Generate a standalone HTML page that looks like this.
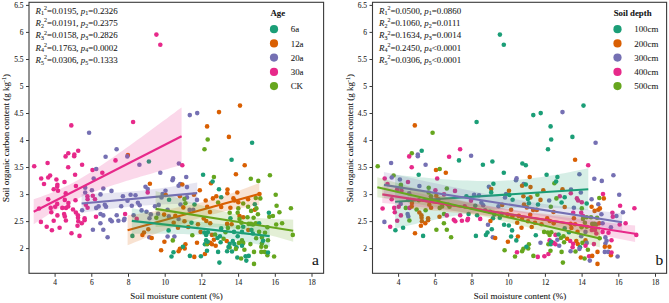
<!DOCTYPE html>
<html><head><meta charset="utf-8"><style>
html,body{margin:0;padding:0;background:#fff;}
svg{display:block;font-family:"Liberation Serif",serif;}
text{stroke:#2a2a2a;stroke-width:0.08px;}
</style></head><body>
<svg width="669" height="303" viewBox="0 0 669 303">
<rect width="669" height="303" fill="#fff"/>
<circle cx="156.4" cy="34.6" r="2.3" fill="#e7298a"/>
<circle cx="160.3" cy="44.8" r="2.3" fill="#e7298a"/>
<circle cx="71.3" cy="125.4" r="2.3" fill="#e7298a"/>
<circle cx="78.2" cy="150.8" r="2.3" fill="#e7298a"/>
<circle cx="68.3" cy="153.3" r="2.3" fill="#e7298a"/>
<circle cx="74.3" cy="154.5" r="2.3" fill="#e7298a"/>
<circle cx="65.6" cy="156.4" r="2.3" fill="#e7298a"/>
<circle cx="133.1" cy="122.0" r="2.3" fill="#e7298a"/>
<circle cx="89.1" cy="132.7" r="2.3" fill="#7570b3"/>
<circle cx="105.6" cy="156.8" r="2.3" fill="#7570b3"/>
<circle cx="116.6" cy="149.2" r="2.3" fill="#7570b3"/>
<circle cx="189.8" cy="115.1" r="2.3" fill="#7570b3"/>
<circle cx="197.2" cy="113.1" r="2.3" fill="#7570b3"/>
<circle cx="127.9" cy="155.0" r="2.3" fill="#d95f02"/>
<circle cx="219.0" cy="112.1" r="2.3" fill="#d95f02"/>
<circle cx="240.0" cy="105.6" r="2.3" fill="#d95f02"/>
<circle cx="207.1" cy="126.4" r="2.3" fill="#d95f02"/>
<circle cx="228.9" cy="136.9" r="2.3" fill="#d95f02"/>
<circle cx="207.7" cy="139.5" r="2.3" fill="#66a61e"/>
<circle cx="204.5" cy="149.2" r="2.3" fill="#66a61e"/>
<circle cx="252.1" cy="142.8" r="2.3" fill="#1b9e77"/>
<circle cx="74.2" cy="156.3" r="2.3" fill="#e7298a"/>
<circle cx="34.2" cy="166.3" r="2.3" fill="#e7298a"/>
<circle cx="47.6" cy="163.0" r="2.3" fill="#e7298a"/>
<circle cx="68.2" cy="167.3" r="2.3" fill="#e7298a"/>
<circle cx="75.1" cy="174.8" r="2.3" fill="#e7298a"/>
<circle cx="50.1" cy="175.5" r="2.3" fill="#e7298a"/>
<circle cx="48.2" cy="177.5" r="2.3" fill="#e7298a"/>
<circle cx="41.2" cy="178.5" r="2.3" fill="#e7298a"/>
<circle cx="56.4" cy="179.5" r="2.3" fill="#e7298a"/>
<circle cx="64.5" cy="182.0" r="2.3" fill="#e7298a"/>
<circle cx="44.0" cy="184.0" r="2.3" fill="#e7298a"/>
<circle cx="57.4" cy="184.7" r="2.3" fill="#e7298a"/>
<circle cx="57.2" cy="186.8" r="2.3" fill="#e7298a"/>
<circle cx="75.9" cy="186.0" r="2.3" fill="#e7298a"/>
<circle cx="53.7" cy="189.3" r="2.3" fill="#e7298a"/>
<circle cx="58.0" cy="190.7" r="2.3" fill="#e7298a"/>
<circle cx="82.1" cy="164.8" r="2.3" fill="#e7298a"/>
<circle cx="115.5" cy="160.4" r="2.3" fill="#e7298a"/>
<circle cx="92.5" cy="170.0" r="2.3" fill="#e7298a"/>
<circle cx="102.3" cy="172.8" r="2.3" fill="#e7298a"/>
<circle cx="96.2" cy="169.0" r="2.3" fill="#7570b3"/>
<circle cx="93.7" cy="178.5" r="2.3" fill="#7570b3"/>
<circle cx="85.2" cy="187.8" r="2.3" fill="#7570b3"/>
<circle cx="91.9" cy="190.2" r="2.3" fill="#7570b3"/>
<circle cx="103.3" cy="188.5" r="2.3" fill="#7570b3"/>
<circle cx="111.5" cy="190.9" r="2.3" fill="#7570b3"/>
<circle cx="85.2" cy="192.5" r="2.3" fill="#7570b3"/>
<circle cx="65.7" cy="193.4" r="2.3" fill="#e7298a"/>
<circle cx="48.2" cy="199.2" r="2.3" fill="#e7298a"/>
<circle cx="64.8" cy="199.9" r="2.3" fill="#e7298a"/>
<circle cx="75.5" cy="200.3" r="2.3" fill="#e7298a"/>
<circle cx="68.4" cy="203.0" r="2.3" fill="#e7298a"/>
<circle cx="57.2" cy="203.9" r="2.3" fill="#e7298a"/>
<circle cx="39.1" cy="208.5" r="2.3" fill="#e7298a"/>
<circle cx="50.7" cy="207.9" r="2.3" fill="#e7298a"/>
<circle cx="55.2" cy="206.7" r="2.3" fill="#e7298a"/>
<circle cx="62.3" cy="207.9" r="2.3" fill="#e7298a"/>
<circle cx="66.0" cy="207.9" r="2.3" fill="#e7298a"/>
<circle cx="68.2" cy="206.4" r="2.3" fill="#e7298a"/>
<circle cx="51.3" cy="212.2" r="2.3" fill="#e7298a"/>
<circle cx="73.0" cy="209.5" r="2.3" fill="#e7298a"/>
<circle cx="75.9" cy="212.5" r="2.3" fill="#e7298a"/>
<circle cx="57.4" cy="215.4" r="2.3" fill="#e7298a"/>
<circle cx="64.1" cy="214.0" r="2.3" fill="#e7298a"/>
<circle cx="64.8" cy="216.4" r="2.3" fill="#e7298a"/>
<circle cx="40.9" cy="221.9" r="2.3" fill="#e7298a"/>
<circle cx="53.7" cy="220.7" r="2.3" fill="#e7298a"/>
<circle cx="65.9" cy="220.5" r="2.3" fill="#e7298a"/>
<circle cx="78.0" cy="217.7" r="2.3" fill="#e7298a"/>
<circle cx="78.3" cy="221.3" r="2.3" fill="#e7298a"/>
<circle cx="87.4" cy="196.2" r="2.3" fill="#e7298a"/>
<circle cx="87.6" cy="199.3" r="2.3" fill="#e7298a"/>
<circle cx="92.8" cy="195.7" r="2.3" fill="#e7298a"/>
<circle cx="95.0" cy="199.2" r="2.3" fill="#e7298a"/>
<circle cx="85.8" cy="204.8" r="2.3" fill="#e7298a"/>
<circle cx="87.6" cy="207.7" r="2.3" fill="#e7298a"/>
<circle cx="77.9" cy="215.2" r="2.3" fill="#e7298a"/>
<circle cx="84.6" cy="218.3" r="2.3" fill="#e7298a"/>
<circle cx="96.0" cy="216.8" r="2.3" fill="#e7298a"/>
<circle cx="81.8" cy="223.3" r="2.3" fill="#e7298a"/>
<circle cx="100.5" cy="194.4" r="2.3" fill="#7570b3"/>
<circle cx="96.2" cy="207.9" r="2.3" fill="#7570b3"/>
<circle cx="98.6" cy="206.4" r="2.3" fill="#7570b3"/>
<circle cx="104.8" cy="204.8" r="2.3" fill="#7570b3"/>
<circle cx="106.0" cy="206.7" r="2.3" fill="#7570b3"/>
<circle cx="82.1" cy="210.3" r="2.3" fill="#7570b3"/>
<circle cx="100.5" cy="214.0" r="2.3" fill="#7570b3"/>
<circle cx="103.3" cy="215.4" r="2.3" fill="#7570b3"/>
<circle cx="116.7" cy="215.2" r="2.3" fill="#7570b3"/>
<circle cx="100.4" cy="223.3" r="2.3" fill="#7570b3"/>
<circle cx="110.3" cy="219.8" r="2.3" fill="#7570b3"/>
<circle cx="111.8" cy="221.3" r="2.3" fill="#7570b3"/>
<circle cx="118.4" cy="220.7" r="2.3" fill="#7570b3"/>
<circle cx="46.7" cy="226.8" r="2.3" fill="#e7298a"/>
<circle cx="51.9" cy="230.3" r="2.3" fill="#e7298a"/>
<circle cx="59.6" cy="227.7" r="2.3" fill="#e7298a"/>
<circle cx="71.5" cy="233.2" r="2.3" fill="#e7298a"/>
<circle cx="77.5" cy="225.8" r="2.3" fill="#e7298a"/>
<circle cx="79.5" cy="235.9" r="2.3" fill="#e7298a"/>
<circle cx="84.6" cy="220.3" r="2.3" fill="#e7298a"/>
<circle cx="92.9" cy="229.8" r="2.3" fill="#7570b3"/>
<circle cx="103.3" cy="229.8" r="2.3" fill="#7570b3"/>
<circle cx="107.6" cy="237.2" r="2.3" fill="#7570b3"/>
<circle cx="149.9" cy="183.7" r="2.3" fill="#d95f02"/>
<circle cx="127.3" cy="156.4" r="2.3" fill="#7570b3"/>
<circle cx="139.4" cy="164.8" r="2.3" fill="#7570b3"/>
<circle cx="160.3" cy="172.8" r="2.3" fill="#7570b3"/>
<circle cx="145.5" cy="186.8" r="2.3" fill="#7570b3"/>
<circle cx="148.9" cy="161.5" r="2.3" fill="#1b9e77"/>
<circle cx="147.7" cy="189.0" r="2.3" fill="#7570b3"/>
<circle cx="122.9" cy="196.2" r="2.3" fill="#7570b3"/>
<circle cx="130.6" cy="194.8" r="2.3" fill="#7570b3"/>
<circle cx="135.5" cy="195.3" r="2.3" fill="#7570b3"/>
<circle cx="127.5" cy="200.7" r="2.3" fill="#7570b3"/>
<circle cx="162.6" cy="194.0" r="2.3" fill="#7570b3"/>
<circle cx="161.5" cy="197.5" r="2.3" fill="#7570b3"/>
<circle cx="165.5" cy="190.8" r="2.3" fill="#7570b3"/>
<circle cx="121.2" cy="206.3" r="2.3" fill="#7570b3"/>
<circle cx="131.8" cy="205.8" r="2.3" fill="#7570b3"/>
<circle cx="137.9" cy="202.8" r="2.3" fill="#7570b3"/>
<circle cx="139.7" cy="205.2" r="2.3" fill="#7570b3"/>
<circle cx="141.6" cy="210.4" r="2.3" fill="#7570b3"/>
<circle cx="146.5" cy="211.7" r="2.3" fill="#7570b3"/>
<circle cx="155.0" cy="206.3" r="2.3" fill="#7570b3"/>
<circle cx="158.7" cy="204.9" r="2.3" fill="#7570b3"/>
<circle cx="133.6" cy="215.3" r="2.3" fill="#7570b3"/>
<circle cx="124.5" cy="218.7" r="2.3" fill="#7570b3"/>
<circle cx="150.8" cy="214.4" r="2.3" fill="#7570b3"/>
<circle cx="149.5" cy="218.3" r="2.3" fill="#7570b3"/>
<circle cx="158.1" cy="213.8" r="2.3" fill="#7570b3"/>
<circle cx="147.7" cy="192.4" r="2.3" fill="#e7298a"/>
<circle cx="125.1" cy="214.0" r="2.3" fill="#e7298a"/>
<circle cx="136.7" cy="218.9" r="2.3" fill="#e7298a"/>
<circle cx="156.3" cy="217.8" r="2.3" fill="#66a61e"/>
<circle cx="164.1" cy="214.6" r="2.3" fill="#d95f02"/>
<circle cx="123.9" cy="220.3" r="2.3" fill="#7570b3"/>
<circle cx="149.3" cy="237.2" r="2.3" fill="#7570b3"/>
<circle cx="148.3" cy="229.2" r="2.3" fill="#d95f02"/>
<circle cx="144.0" cy="232.5" r="2.3" fill="#d95f02"/>
<circle cx="142.4" cy="235.0" r="2.3" fill="#d95f02"/>
<circle cx="151.7" cy="238.0" r="2.3" fill="#d95f02"/>
<circle cx="164.4" cy="241.7" r="2.3" fill="#d95f02"/>
<circle cx="161.1" cy="250.3" r="2.3" fill="#d95f02"/>
<circle cx="132.4" cy="235.9" r="2.3" fill="#1b9e77"/>
<circle cx="178.9" cy="163.5" r="2.3" fill="#7570b3"/>
<circle cx="173.1" cy="178.4" r="2.3" fill="#7570b3"/>
<circle cx="186.2" cy="177.0" r="2.3" fill="#7570b3"/>
<circle cx="180.2" cy="184.0" r="2.3" fill="#7570b3"/>
<circle cx="178.6" cy="185.8" r="2.3" fill="#7570b3"/>
<circle cx="187.0" cy="187.1" r="2.3" fill="#7570b3"/>
<circle cx="182.3" cy="165.2" r="2.3" fill="#e7298a"/>
<circle cx="203.1" cy="174.8" r="2.3" fill="#1b9e77"/>
<circle cx="182.3" cy="184.5" r="2.3" fill="#d95f02"/>
<circle cx="211.0" cy="183.2" r="2.3" fill="#d95f02"/>
<circle cx="172.5" cy="180.3" r="2.3" fill="#7570b3"/>
<circle cx="187.0" cy="197.4" r="2.3" fill="#7570b3"/>
<circle cx="197.0" cy="199.9" r="2.3" fill="#7570b3"/>
<circle cx="180.5" cy="204.5" r="2.3" fill="#7570b3"/>
<circle cx="189.6" cy="209.9" r="2.3" fill="#7570b3"/>
<circle cx="193.3" cy="209.9" r="2.3" fill="#7570b3"/>
<circle cx="167.6" cy="209.7" r="2.3" fill="#7570b3"/>
<circle cx="168.9" cy="216.4" r="2.3" fill="#7570b3"/>
<circle cx="165.8" cy="195.0" r="2.3" fill="#d95f02"/>
<circle cx="199.8" cy="190.3" r="2.3" fill="#d95f02"/>
<circle cx="193.9" cy="194.8" r="2.3" fill="#d95f02"/>
<circle cx="179.9" cy="196.2" r="2.3" fill="#d95f02"/>
<circle cx="205.7" cy="200.5" r="2.3" fill="#d95f02"/>
<circle cx="183.3" cy="207.4" r="2.3" fill="#d95f02"/>
<circle cx="207.2" cy="206.7" r="2.3" fill="#d95f02"/>
<circle cx="175.3" cy="215.9" r="2.3" fill="#d95f02"/>
<circle cx="210.0" cy="212.0" r="2.3" fill="#d95f02"/>
<circle cx="169.1" cy="199.7" r="2.3" fill="#1b9e77"/>
<circle cx="194.5" cy="204.5" r="2.3" fill="#1b9e77"/>
<circle cx="184.4" cy="198.9" r="2.3" fill="#66a61e"/>
<circle cx="185.4" cy="203.3" r="2.3" fill="#66a61e"/>
<circle cx="231.6" cy="159.8" r="2.3" fill="#1b9e77"/>
<circle cx="212.6" cy="181.5" r="2.3" fill="#1b9e77"/>
<circle cx="244.7" cy="165.2" r="2.3" fill="#d95f02"/>
<circle cx="235.9" cy="174.2" r="2.3" fill="#d95f02"/>
<circle cx="213.9" cy="177.0" r="2.3" fill="#66a61e"/>
<circle cx="250.8" cy="178.8" r="2.3" fill="#66a61e"/>
<circle cx="258.3" cy="180.9" r="2.3" fill="#66a61e"/>
<circle cx="269.9" cy="175.2" r="2.3" fill="#66a61e"/>
<circle cx="219.0" cy="189.2" r="2.3" fill="#1b9e77"/>
<circle cx="221.2" cy="197.2" r="2.3" fill="#1b9e77"/>
<circle cx="254.8" cy="204.2" r="2.3" fill="#1b9e77"/>
<circle cx="227.5" cy="189.5" r="2.3" fill="#d95f02"/>
<circle cx="227.3" cy="193.2" r="2.3" fill="#d95f02"/>
<circle cx="237.3" cy="192.5" r="2.3" fill="#d95f02"/>
<circle cx="216.3" cy="196.2" r="2.3" fill="#d95f02"/>
<circle cx="212.9" cy="198.4" r="2.3" fill="#d95f02"/>
<circle cx="233.4" cy="198.4" r="2.3" fill="#d95f02"/>
<circle cx="234.6" cy="200.5" r="2.3" fill="#d95f02"/>
<circle cx="238.3" cy="202.2" r="2.3" fill="#d95f02"/>
<circle cx="248.1" cy="199.2" r="2.3" fill="#d95f02"/>
<circle cx="221.2" cy="207.0" r="2.3" fill="#d95f02"/>
<circle cx="230.4" cy="207.8" r="2.3" fill="#d95f02"/>
<circle cx="254.8" cy="209.7" r="2.3" fill="#d95f02"/>
<circle cx="218.1" cy="202.5" r="2.3" fill="#66a61e"/>
<circle cx="243.2" cy="203.5" r="2.3" fill="#66a61e"/>
<circle cx="238.3" cy="208.4" r="2.3" fill="#66a61e"/>
<circle cx="248.1" cy="206.7" r="2.3" fill="#66a61e"/>
<circle cx="251.1" cy="210.9" r="2.3" fill="#66a61e"/>
<circle cx="229.7" cy="212.8" r="2.3" fill="#66a61e"/>
<circle cx="237.7" cy="212.8" r="2.3" fill="#66a61e"/>
<circle cx="259.5" cy="194.0" r="2.3" fill="#d95f02"/>
<circle cx="255.8" cy="198.0" r="2.3" fill="#66a61e"/>
<circle cx="260.3" cy="198.4" r="2.3" fill="#66a61e"/>
<circle cx="275.7" cy="194.8" r="2.3" fill="#66a61e"/>
<circle cx="256.4" cy="208.4" r="2.3" fill="#66a61e"/>
<circle cx="276.6" cy="205.8" r="2.3" fill="#66a61e"/>
<circle cx="290.9" cy="208.2" r="2.3" fill="#66a61e"/>
<circle cx="279.4" cy="212.3" r="2.3" fill="#66a61e"/>
<circle cx="257.9" cy="214.3" r="2.3" fill="#66a61e"/>
<circle cx="272.9" cy="216.0" r="2.3" fill="#66a61e"/>
<circle cx="269.3" cy="216.8" r="2.3" fill="#66a61e"/>
<circle cx="268.9" cy="212.8" r="2.3" fill="#1b9e77"/>
<circle cx="178.6" cy="219.0" r="2.3" fill="#7570b3"/>
<circle cx="167.6" cy="236.5" r="2.3" fill="#7570b3"/>
<circle cx="174.4" cy="236.5" r="2.3" fill="#7570b3"/>
<circle cx="184.5" cy="221.2" r="2.3" fill="#d95f02"/>
<circle cx="173.7" cy="222.8" r="2.3" fill="#d95f02"/>
<circle cx="198.0" cy="224.3" r="2.3" fill="#d95f02"/>
<circle cx="206.3" cy="221.0" r="2.3" fill="#d95f02"/>
<circle cx="203.7" cy="218.4" r="2.3" fill="#d95f02"/>
<circle cx="178.0" cy="227.7" r="2.3" fill="#d95f02"/>
<circle cx="188.2" cy="227.0" r="2.3" fill="#d95f02"/>
<circle cx="200.6" cy="231.9" r="2.3" fill="#d95f02"/>
<circle cx="197.0" cy="242.7" r="2.3" fill="#d95f02"/>
<circle cx="185.4" cy="244.3" r="2.3" fill="#d95f02"/>
<circle cx="179.9" cy="248.8" r="2.3" fill="#d95f02"/>
<circle cx="184.7" cy="248.4" r="2.3" fill="#d95f02"/>
<circle cx="191.5" cy="222.8" r="2.3" fill="#1b9e77"/>
<circle cx="168.6" cy="230.4" r="2.3" fill="#1b9e77"/>
<circle cx="204.3" cy="232.5" r="2.3" fill="#1b9e77"/>
<circle cx="207.9" cy="232.2" r="2.3" fill="#1b9e77"/>
<circle cx="206.1" cy="234.9" r="2.3" fill="#1b9e77"/>
<circle cx="206.1" cy="240.4" r="2.3" fill="#1b9e77"/>
<circle cx="204.9" cy="244.2" r="2.3" fill="#1b9e77"/>
<circle cx="182.9" cy="246.8" r="2.3" fill="#1b9e77"/>
<circle cx="192.3" cy="235.3" r="2.3" fill="#66a61e"/>
<circle cx="172.8" cy="240.4" r="2.3" fill="#66a61e"/>
<circle cx="207.2" cy="244.3" r="2.3" fill="#66a61e"/>
<circle cx="239.5" cy="216.0" r="2.3" fill="#d95f02"/>
<circle cx="243.2" cy="217.2" r="2.3" fill="#d95f02"/>
<circle cx="210.2" cy="223.3" r="2.3" fill="#d95f02"/>
<circle cx="227.1" cy="223.9" r="2.3" fill="#d95f02"/>
<circle cx="231.6" cy="224.3" r="2.3" fill="#d95f02"/>
<circle cx="248.3" cy="230.0" r="2.3" fill="#d95f02"/>
<circle cx="212.0" cy="234.9" r="2.3" fill="#d95f02"/>
<circle cx="213.9" cy="239.8" r="2.3" fill="#d95f02"/>
<circle cx="226.7" cy="241.0" r="2.3" fill="#d95f02"/>
<circle cx="210.2" cy="242.9" r="2.3" fill="#d95f02"/>
<circle cx="212.0" cy="244.3" r="2.3" fill="#d95f02"/>
<circle cx="215.7" cy="245.7" r="2.3" fill="#d95f02"/>
<circle cx="247.5" cy="217.2" r="2.3" fill="#66a61e"/>
<circle cx="253.6" cy="217.8" r="2.3" fill="#66a61e"/>
<circle cx="239.5" cy="219.0" r="2.3" fill="#66a61e"/>
<circle cx="241.4" cy="222.8" r="2.3" fill="#66a61e"/>
<circle cx="248.7" cy="223.9" r="2.3" fill="#66a61e"/>
<circle cx="253.0" cy="224.5" r="2.3" fill="#66a61e"/>
<circle cx="227.9" cy="227.9" r="2.3" fill="#66a61e"/>
<circle cx="238.1" cy="227.2" r="2.3" fill="#66a61e"/>
<circle cx="225.5" cy="232.2" r="2.3" fill="#66a61e"/>
<circle cx="215.1" cy="234.5" r="2.3" fill="#66a61e"/>
<circle cx="223.6" cy="238.7" r="2.3" fill="#66a61e"/>
<circle cx="242.0" cy="240.4" r="2.3" fill="#66a61e"/>
<circle cx="238.9" cy="242.9" r="2.3" fill="#66a61e"/>
<circle cx="243.2" cy="242.9" r="2.3" fill="#66a61e"/>
<circle cx="250.4" cy="244.1" r="2.3" fill="#66a61e"/>
<circle cx="229.7" cy="247.5" r="2.3" fill="#66a61e"/>
<circle cx="230.4" cy="218.2" r="2.3" fill="#1b9e77"/>
<circle cx="243.2" cy="226.8" r="2.3" fill="#1b9e77"/>
<circle cx="221.2" cy="228.4" r="2.3" fill="#1b9e77"/>
<circle cx="234.0" cy="231.9" r="2.3" fill="#1b9e77"/>
<circle cx="242.0" cy="231.9" r="2.3" fill="#1b9e77"/>
<circle cx="252.9" cy="233.5" r="2.3" fill="#1b9e77"/>
<circle cx="220.0" cy="236.2" r="2.3" fill="#1b9e77"/>
<circle cx="237.7" cy="236.2" r="2.3" fill="#1b9e77"/>
<circle cx="217.5" cy="238.0" r="2.3" fill="#1b9e77"/>
<circle cx="232.8" cy="241.0" r="2.3" fill="#1b9e77"/>
<circle cx="207.7" cy="241.7" r="2.3" fill="#1b9e77"/>
<circle cx="220.6" cy="242.3" r="2.3" fill="#1b9e77"/>
<circle cx="229.7" cy="243.8" r="2.3" fill="#1b9e77"/>
<circle cx="234.3" cy="244.1" r="2.3" fill="#1b9e77"/>
<circle cx="236.5" cy="247.2" r="2.3" fill="#1b9e77"/>
<circle cx="250.9" cy="223.9" r="2.3" fill="#66a61e"/>
<circle cx="255.8" cy="223.2" r="2.3" fill="#66a61e"/>
<circle cx="276.2" cy="224.5" r="2.3" fill="#66a61e"/>
<circle cx="282.1" cy="223.2" r="2.3" fill="#66a61e"/>
<circle cx="267.4" cy="227.2" r="2.3" fill="#66a61e"/>
<circle cx="292.8" cy="234.9" r="2.3" fill="#66a61e"/>
<circle cx="259.1" cy="231.9" r="2.3" fill="#66a61e"/>
<circle cx="265.0" cy="232.8" r="2.3" fill="#66a61e"/>
<circle cx="256.2" cy="238.2" r="2.3" fill="#66a61e"/>
<circle cx="261.9" cy="237.4" r="2.3" fill="#66a61e"/>
<circle cx="268.0" cy="240.2" r="2.3" fill="#66a61e"/>
<circle cx="261.9" cy="243.5" r="2.3" fill="#66a61e"/>
<circle cx="261.3" cy="246.8" r="2.3" fill="#66a61e"/>
<circle cx="265.9" cy="246.8" r="2.3" fill="#66a61e"/>
<circle cx="259.1" cy="223.2" r="2.3" fill="#1b9e77"/>
<circle cx="251.5" cy="230.0" r="2.3" fill="#1b9e77"/>
<circle cx="263.1" cy="240.8" r="2.3" fill="#1b9e77"/>
<circle cx="178.6" cy="251.2" r="2.3" fill="#d95f02"/>
<circle cx="194.3" cy="256.9" r="2.3" fill="#d95f02"/>
<circle cx="204.9" cy="254.0" r="2.3" fill="#d95f02"/>
<circle cx="173.5" cy="252.3" r="2.3" fill="#1b9e77"/>
<circle cx="171.5" cy="256.5" r="2.3" fill="#1b9e77"/>
<circle cx="189.9" cy="255.9" r="2.3" fill="#1b9e77"/>
<circle cx="200.9" cy="256.2" r="2.3" fill="#1b9e77"/>
<circle cx="207.0" cy="250.8" r="2.3" fill="#1b9e77"/>
<circle cx="228.5" cy="247.0" r="2.3" fill="#1b9e77"/>
<circle cx="242.0" cy="245.8" r="2.3" fill="#1b9e77"/>
<circle cx="227.1" cy="251.3" r="2.3" fill="#1b9e77"/>
<circle cx="232.0" cy="251.5" r="2.3" fill="#1b9e77"/>
<circle cx="218.1" cy="251.9" r="2.3" fill="#1b9e77"/>
<circle cx="237.3" cy="257.5" r="2.3" fill="#1b9e77"/>
<circle cx="245.6" cy="256.2" r="2.3" fill="#1b9e77"/>
<circle cx="248.7" cy="255.9" r="2.3" fill="#1b9e77"/>
<circle cx="246.3" cy="260.6" r="2.3" fill="#1b9e77"/>
<circle cx="219.4" cy="262.6" r="2.3" fill="#1b9e77"/>
<circle cx="235.9" cy="248.9" r="2.3" fill="#66a61e"/>
<circle cx="244.4" cy="249.8" r="2.3" fill="#66a61e"/>
<circle cx="254.0" cy="251.9" r="2.3" fill="#66a61e"/>
<circle cx="241.1" cy="258.5" r="2.3" fill="#66a61e"/>
<circle cx="254.0" cy="263.9" r="2.3" fill="#66a61e"/>
<circle cx="261.3" cy="251.9" r="2.3" fill="#66a61e"/>
<circle cx="264.7" cy="251.9" r="2.3" fill="#66a61e"/>
<circle cx="267.4" cy="255.2" r="2.3" fill="#66a61e"/>
<circle cx="274.1" cy="256.5" r="2.3" fill="#66a61e"/>
<circle cx="268.0" cy="252.5" r="2.3" fill="#1b9e77"/>
<path d="M33.7,199.3 L37.4,198.0 L41.1,196.7 L44.8,195.3 L48.5,193.9 L52.2,192.4 L55.9,190.9 L59.6,189.3 L63.3,187.6 L67.0,185.8 L70.7,183.9 L74.4,181.9 L78.1,179.9 L81.8,177.7 L85.5,175.5 L89.2,173.2 L92.9,170.9 L96.6,168.5 L100.3,166.0 L104.0,163.6 L107.6,161.0 L111.3,158.5 L115.0,155.9 L118.7,153.3 L122.4,150.7 L126.1,148.0 L129.8,145.4 L133.5,142.7 L137.2,140.0 L140.9,137.4 L144.6,134.7 L148.3,132.0 L152.0,129.3 L155.7,126.5 L159.4,123.8 L163.1,121.1 L166.8,118.4 L170.5,115.6 L174.2,112.9 L177.9,110.1 L181.6,107.4 L181.6,165.0 L177.9,166.0 L174.2,167.1 L170.5,168.1 L166.8,169.2 L163.1,170.2 L159.4,171.3 L155.7,172.3 L152.0,173.4 L148.3,174.5 L144.6,175.5 L140.9,176.6 L137.2,177.7 L133.5,178.8 L129.8,179.9 L126.1,181.1 L122.4,182.2 L118.7,183.4 L115.0,184.5 L111.3,185.7 L107.6,187.0 L104.0,188.2 L100.3,189.5 L96.6,190.9 L92.9,192.2 L89.2,193.7 L85.5,195.2 L81.8,196.7 L78.1,198.4 L74.4,200.1 L70.7,201.9 L67.0,203.8 L63.3,205.8 L59.6,207.9 L55.9,210.0 L52.2,212.3 L48.5,214.6 L44.8,216.9 L41.1,219.3 L37.4,221.8 L33.7,224.3Z" fill="#e7298a" fill-opacity="0.18"/>
<line x1="33.7" y1="211.8" x2="181.6" y2="136.2" stroke="#e7298a" stroke-width="2.1"/>
<path d="M81.6,194.0 L84.5,193.9 L87.4,193.9 L90.3,193.8 L93.2,193.7 L96.0,193.6 L98.9,193.5 L101.8,193.4 L104.7,193.3 L107.6,193.1 L110.5,193.0 L113.4,192.8 L116.3,192.6 L119.2,192.5 L122.1,192.3 L124.9,192.0 L127.8,191.8 L130.7,191.6 L133.6,191.3 L136.5,191.0 L139.4,190.8 L142.3,190.5 L145.2,190.1 L148.1,189.8 L151.0,189.5 L153.8,189.1 L156.7,188.8 L159.6,188.4 L162.5,188.0 L165.4,187.6 L168.3,187.2 L171.2,186.8 L174.1,186.3 L177.0,185.9 L179.9,185.4 L182.8,185.0 L185.6,184.5 L188.5,184.0 L191.4,183.6 L194.3,183.1 L197.2,182.6 L197.2,203.6 L194.3,203.6 L191.4,203.7 L188.5,203.7 L185.6,203.8 L182.8,203.8 L179.9,203.9 L177.0,204.0 L174.1,204.0 L171.2,204.1 L168.3,204.2 L165.4,204.3 L162.5,204.5 L159.6,204.6 L156.7,204.7 L153.8,204.9 L151.0,205.0 L148.1,205.2 L145.2,205.4 L142.3,205.6 L139.4,205.8 L136.5,206.1 L133.6,206.3 L130.7,206.6 L127.8,206.9 L124.9,207.2 L122.1,207.5 L119.2,207.8 L116.3,208.1 L113.4,208.5 L110.5,208.8 L107.6,209.2 L104.7,209.6 L101.8,210.0 L98.9,210.4 L96.0,210.8 L93.2,211.2 L90.3,211.6 L87.4,212.1 L84.5,212.5 L81.6,213.0Z" fill="#7570b3" fill-opacity="0.18"/>
<line x1="81.6" y1="203.5" x2="197.2" y2="193.1" stroke="#7570b3" stroke-width="2.1"/>
<path d="M127.6,215.3 L130.9,214.8 L134.2,214.4 L137.5,213.9 L140.8,213.4 L144.1,213.0 L147.4,212.5 L150.6,212.0 L153.9,211.5 L157.2,211.0 L160.5,210.5 L163.8,209.9 L167.1,209.4 L170.4,208.8 L173.7,208.2 L177.0,207.6 L180.3,207.0 L183.6,206.3 L186.9,205.7 L190.2,205.0 L193.4,204.3 L196.7,203.5 L200.0,202.7 L203.3,201.9 L206.6,201.0 L209.9,200.1 L213.2,199.2 L216.5,198.2 L219.8,197.2 L223.1,196.1 L226.4,195.1 L229.7,194.0 L233.0,192.8 L236.3,191.7 L239.5,190.5 L242.8,189.3 L246.1,188.1 L249.4,186.8 L252.7,185.6 L256.0,184.3 L259.3,183.0 L259.3,205.0 L256.0,205.5 L252.7,206.1 L249.4,206.6 L246.1,207.2 L242.8,207.8 L239.5,208.4 L236.3,209.0 L233.0,209.7 L229.7,210.4 L226.4,211.1 L223.1,211.8 L219.8,212.6 L216.5,213.4 L213.2,214.2 L209.9,215.1 L206.6,216.0 L203.3,217.0 L200.0,218.0 L196.7,219.0 L193.4,220.0 L190.2,221.1 L186.9,222.3 L183.6,223.4 L180.3,224.6 L177.0,225.8 L173.7,227.0 L170.4,228.2 L167.1,229.5 L163.8,230.7 L160.5,232.0 L157.2,233.3 L153.9,234.6 L150.6,235.9 L147.4,237.2 L144.1,238.6 L140.8,239.9 L137.5,241.2 L134.2,242.6 L130.9,243.9 L127.6,245.3Z" fill="#d95f02" fill-opacity="0.18"/>
<line x1="127.6" y1="230.3" x2="259.3" y2="194.0" stroke="#d95f02" stroke-width="2.1"/>
<path d="M131.8,207.9 L135.2,208.7 L138.7,209.5 L142.1,210.3 L145.6,211.1 L149.0,211.9 L152.5,212.7 L155.9,213.5 L159.4,214.2 L162.8,215.0 L166.3,215.7 L169.7,216.4 L173.2,217.1 L176.6,217.8 L180.1,218.5 L183.5,219.1 L187.0,219.7 L190.4,220.3 L193.9,220.9 L197.3,221.4 L200.8,221.9 L204.2,222.3 L207.6,222.8 L211.1,223.1 L214.5,223.5 L218.0,223.8 L221.4,224.0 L224.9,224.3 L228.3,224.4 L231.8,224.6 L235.2,224.7 L238.7,224.9 L242.1,225.0 L245.6,225.0 L249.0,225.1 L252.5,225.1 L255.9,225.1 L259.4,225.1 L262.8,225.1 L266.3,225.1 L269.7,225.1 L269.7,247.1 L266.3,246.3 L262.8,245.5 L259.4,244.8 L255.9,244.0 L252.5,243.3 L249.0,242.6 L245.6,241.9 L242.1,241.2 L238.7,240.5 L235.2,239.9 L231.8,239.2 L228.3,238.6 L224.9,238.1 L221.4,237.5 L218.0,237.0 L214.5,236.6 L211.1,236.1 L207.6,235.8 L204.2,235.4 L200.8,235.1 L197.3,234.8 L193.9,234.6 L190.4,234.4 L187.0,234.2 L183.5,234.1 L180.1,234.0 L176.6,233.9 L173.2,233.8 L169.7,233.7 L166.3,233.7 L162.8,233.7 L159.4,233.7 L155.9,233.7 L152.5,233.7 L149.0,233.7 L145.6,233.7 L142.1,233.8 L138.7,233.8 L135.2,233.8 L131.8,233.9Z" fill="#1b9e77" fill-opacity="0.18"/>
<line x1="131.8" y1="220.9" x2="269.7" y2="236.1" stroke="#1b9e77" stroke-width="2.1"/>
<path d="M155.6,190.9 L159.0,192.0 L162.5,193.1 L165.9,194.3 L169.4,195.4 L172.8,196.5 L176.2,197.6 L179.7,198.7 L183.1,199.7 L186.6,200.8 L190.0,201.9 L193.4,202.9 L196.9,204.0 L200.3,205.0 L203.8,206.0 L207.2,207.0 L210.6,208.0 L214.1,209.0 L217.5,209.9 L221.0,210.8 L224.4,211.7 L227.8,212.6 L231.3,213.4 L234.7,214.1 L238.2,214.8 L241.6,215.5 L245.0,216.1 L248.5,216.6 L251.9,217.1 L255.4,217.5 L258.8,217.9 L262.2,218.2 L265.7,218.5 L269.1,218.8 L272.6,219.0 L276.0,219.2 L279.4,219.3 L282.9,219.4 L286.3,219.5 L289.8,219.6 L293.2,219.7 L293.2,241.7 L289.8,240.7 L286.3,239.7 L282.9,238.7 L279.4,237.7 L276.0,236.8 L272.6,235.9 L269.1,235.0 L265.7,234.2 L262.2,233.4 L258.8,232.6 L255.4,231.9 L251.9,231.2 L248.5,230.6 L245.0,230.1 L241.6,229.6 L238.2,229.1 L234.7,228.8 L231.3,228.4 L227.8,228.1 L224.4,227.9 L221.0,227.7 L217.5,227.5 L214.1,227.3 L210.6,227.2 L207.2,227.1 L203.8,227.0 L200.3,226.9 L196.9,226.9 L193.4,226.8 L190.0,226.8 L186.6,226.8 L183.1,226.8 L179.7,226.8 L176.2,226.8 L172.8,226.8 L169.4,226.8 L165.9,226.8 L162.5,226.8 L159.0,226.9 L155.6,226.9Z" fill="#66a61e" fill-opacity="0.18"/>
<line x1="155.6" y1="208.9" x2="293.2" y2="230.7" stroke="#66a61e" stroke-width="2.1"/>
<rect x="29" y="2.3" width="294.6" height="271.0" fill="none" stroke="#3a3a3a" stroke-width="1.1"/>
<line x1="26" y1="248.6" x2="29" y2="248.6" stroke="#3a3a3a" stroke-width="1"/>
<text x="23.5" y="251.2" text-anchor="end" font-size="7.5" fill="#222">2</text>
<line x1="26" y1="221.6" x2="29" y2="221.6" stroke="#3a3a3a" stroke-width="1"/>
<text x="23.5" y="224.2" text-anchor="end" font-size="7.5" fill="#222">2.5</text>
<line x1="26" y1="194.6" x2="29" y2="194.6" stroke="#3a3a3a" stroke-width="1"/>
<text x="23.5" y="197.2" text-anchor="end" font-size="7.5" fill="#222">3</text>
<line x1="26" y1="167.5" x2="29" y2="167.5" stroke="#3a3a3a" stroke-width="1"/>
<text x="23.5" y="170.1" text-anchor="end" font-size="7.5" fill="#222">3.5</text>
<line x1="26" y1="140.5" x2="29" y2="140.5" stroke="#3a3a3a" stroke-width="1"/>
<text x="23.5" y="143.1" text-anchor="end" font-size="7.5" fill="#222">4</text>
<line x1="26" y1="113.5" x2="29" y2="113.5" stroke="#3a3a3a" stroke-width="1"/>
<text x="23.5" y="116.1" text-anchor="end" font-size="7.5" fill="#222">4.5</text>
<line x1="26" y1="86.5" x2="29" y2="86.5" stroke="#3a3a3a" stroke-width="1"/>
<text x="23.5" y="89.1" text-anchor="end" font-size="7.5" fill="#222">5</text>
<line x1="26" y1="59.5" x2="29" y2="59.5" stroke="#3a3a3a" stroke-width="1"/>
<text x="23.5" y="62.1" text-anchor="end" font-size="7.5" fill="#222">5.5</text>
<line x1="26" y1="32.4" x2="29" y2="32.4" stroke="#3a3a3a" stroke-width="1"/>
<text x="23.5" y="35.0" text-anchor="end" font-size="7.5" fill="#222">6</text>
<line x1="26" y1="5.4" x2="29" y2="5.4" stroke="#3a3a3a" stroke-width="1"/>
<text x="23.5" y="8.0" text-anchor="end" font-size="7.5" fill="#222">6.5</text>
<line x1="55.1" y1="273.3" x2="55.1" y2="276.8" stroke="#3a3a3a" stroke-width="1"/>
<text x="55.1" y="284.5" text-anchor="middle" font-size="7.5" fill="#222">4</text>
<line x1="91.8" y1="273.3" x2="91.8" y2="276.8" stroke="#3a3a3a" stroke-width="1"/>
<text x="91.8" y="284.5" text-anchor="middle" font-size="7.5" fill="#222">6</text>
<line x1="128.5" y1="273.3" x2="128.5" y2="276.8" stroke="#3a3a3a" stroke-width="1"/>
<text x="128.5" y="284.5" text-anchor="middle" font-size="7.5" fill="#222">8</text>
<line x1="165.2" y1="273.3" x2="165.2" y2="276.8" stroke="#3a3a3a" stroke-width="1"/>
<text x="165.2" y="284.5" text-anchor="middle" font-size="7.5" fill="#222">10</text>
<line x1="201.9" y1="273.3" x2="201.9" y2="276.8" stroke="#3a3a3a" stroke-width="1"/>
<text x="201.9" y="284.5" text-anchor="middle" font-size="7.5" fill="#222">12</text>
<line x1="238.6" y1="273.3" x2="238.6" y2="276.8" stroke="#3a3a3a" stroke-width="1"/>
<text x="238.6" y="284.5" text-anchor="middle" font-size="7.5" fill="#222">14</text>
<line x1="275.3" y1="273.3" x2="275.3" y2="276.8" stroke="#3a3a3a" stroke-width="1"/>
<text x="275.3" y="284.5" text-anchor="middle" font-size="7.5" fill="#222">16</text>
<line x1="312.0" y1="273.3" x2="312.0" y2="276.8" stroke="#3a3a3a" stroke-width="1"/>
<text x="312.0" y="284.5" text-anchor="middle" font-size="7.5" fill="#222">18</text>
<text x="176.5" y="298.6" text-anchor="middle" font-size="9" fill="#111">Soil moisture content (%)</text>
<text transform="translate(9.3,138) rotate(-90)" text-anchor="middle" font-size="9" fill="#111">Soil organic carbon content (g kg<tspan dy="-3" font-size="6">-1</tspan><tspan dy="3">)</tspan></text>
<text x="35.5" y="13.5" font-size="8.9" fill="#222"><tspan font-style="italic">R</tspan><tspan font-size="6" dy="1.8">1</tspan><tspan font-size="6" dy="-5.6">2</tspan><tspan dy="3.8">=0.0195, </tspan><tspan font-style="italic">p</tspan><tspan font-size="6" dy="1.8">1</tspan><tspan dy="-1.8">=0.2326</tspan></text>
<text x="35.5" y="25.9" font-size="8.9" fill="#222"><tspan font-style="italic">R</tspan><tspan font-size="6" dy="1.8">2</tspan><tspan font-size="6" dy="-5.6">2</tspan><tspan dy="3.8">=0.0191, </tspan><tspan font-style="italic">p</tspan><tspan font-size="6" dy="1.8">2</tspan><tspan dy="-1.8">=0.2375</tspan></text>
<text x="35.5" y="38.3" font-size="8.9" fill="#222"><tspan font-style="italic">R</tspan><tspan font-size="6" dy="1.8">3</tspan><tspan font-size="6" dy="-5.6">2</tspan><tspan dy="3.8">=0.0158, </tspan><tspan font-style="italic">p</tspan><tspan font-size="6" dy="1.8">3</tspan><tspan dy="-1.8">=0.2826</tspan></text>
<text x="35.5" y="50.6" font-size="8.9" fill="#222"><tspan font-style="italic">R</tspan><tspan font-size="6" dy="1.8">4</tspan><tspan font-size="6" dy="-5.6">2</tspan><tspan dy="3.8">=0.1763, </tspan><tspan font-style="italic">p</tspan><tspan font-size="6" dy="1.8">4</tspan><tspan dy="-1.8">=0.0002</tspan></text>
<text x="35.5" y="63.0" font-size="8.9" fill="#222"><tspan font-style="italic">R</tspan><tspan font-size="6" dy="1.8">5</tspan><tspan font-size="6" dy="-5.6">2</tspan><tspan dy="3.8">=0.0306, </tspan><tspan font-style="italic">p</tspan><tspan font-size="6" dy="1.8">5</tspan><tspan dy="-1.8">=0.1333</tspan></text>
<text x="270.5" y="15.6" font-size="8.8" font-weight="bold" fill="#111">Age</text>
<circle cx="274.0" cy="29.2" r="4.1" fill="#1b9e77"/>
<text x="290.7" y="32.3" font-size="8.9" fill="#222">6a</text>
<circle cx="274.0" cy="43.4" r="4.1" fill="#d95f02"/>
<text x="290.7" y="46.5" font-size="8.9" fill="#222">12a</text>
<circle cx="274.0" cy="57.6" r="4.1" fill="#7570b3"/>
<text x="290.7" y="60.7" font-size="8.9" fill="#222">20a</text>
<circle cx="274.0" cy="71.9" r="4.1" fill="#e7298a"/>
<text x="290.7" y="75.0" font-size="8.9" fill="#222">30a</text>
<circle cx="274.0" cy="86.1" r="4.1" fill="#66a61e"/>
<text x="290.7" y="89.2" font-size="8.9" fill="#222">CK</text>
<text x="312" y="265" font-size="15.5" fill="#111">a</text>
<circle cx="499.9" cy="34.6" r="2.3" fill="#1b9e77"/>
<circle cx="503.8" cy="44.8" r="2.3" fill="#1b9e77"/>
<circle cx="414.8" cy="125.4" r="2.3" fill="#d95f02"/>
<circle cx="421.7" cy="150.8" r="2.3" fill="#1b9e77"/>
<circle cx="411.8" cy="153.3" r="2.3" fill="#66a61e"/>
<circle cx="417.8" cy="154.5" r="2.3" fill="#7570b3"/>
<circle cx="409.2" cy="156.4" r="2.3" fill="#e7298a"/>
<circle cx="476.6" cy="122.0" r="2.3" fill="#1b9e77"/>
<circle cx="432.6" cy="132.7" r="2.3" fill="#66a61e"/>
<circle cx="449.1" cy="156.8" r="2.3" fill="#e7298a"/>
<circle cx="460.1" cy="149.2" r="2.3" fill="#e7298a"/>
<circle cx="533.3" cy="115.1" r="2.3" fill="#1b9e77"/>
<circle cx="540.7" cy="113.1" r="2.3" fill="#1b9e77"/>
<circle cx="471.1" cy="155.7" r="2.3" fill="#7570b3"/>
<circle cx="562.5" cy="112.1" r="2.3" fill="#7570b3"/>
<circle cx="583.5" cy="105.6" r="2.3" fill="#1b9e77"/>
<circle cx="550.6" cy="126.4" r="2.3" fill="#1b9e77"/>
<circle cx="572.4" cy="136.9" r="2.3" fill="#1b9e77"/>
<circle cx="551.2" cy="139.5" r="2.3" fill="#1b9e77"/>
<circle cx="548.0" cy="149.2" r="2.3" fill="#1b9e77"/>
<circle cx="595.6" cy="142.8" r="2.3" fill="#7570b3"/>
<circle cx="417.8" cy="156.3" r="2.3" fill="#7570b3"/>
<circle cx="377.7" cy="166.3" r="2.3" fill="#66a61e"/>
<circle cx="391.1" cy="163.0" r="2.3" fill="#7570b3"/>
<circle cx="411.7" cy="167.3" r="2.3" fill="#e7298a"/>
<circle cx="418.7" cy="174.8" r="2.3" fill="#1b9e77"/>
<circle cx="393.6" cy="175.5" r="2.3" fill="#66a61e"/>
<circle cx="391.7" cy="177.5" r="2.3" fill="#7570b3"/>
<circle cx="384.7" cy="178.5" r="2.3" fill="#e7298a"/>
<circle cx="399.9" cy="179.5" r="2.3" fill="#7570b3"/>
<circle cx="408.0" cy="182.0" r="2.3" fill="#e7298a"/>
<circle cx="387.5" cy="184.0" r="2.3" fill="#e7298a"/>
<circle cx="400.9" cy="184.7" r="2.3" fill="#66a61e"/>
<circle cx="400.7" cy="186.8" r="2.3" fill="#66a61e"/>
<circle cx="419.4" cy="186.0" r="2.3" fill="#7570b3"/>
<circle cx="397.2" cy="189.3" r="2.3" fill="#e7298a"/>
<circle cx="401.5" cy="190.7" r="2.3" fill="#e7298a"/>
<circle cx="425.6" cy="164.8" r="2.3" fill="#7570b3"/>
<circle cx="459.0" cy="160.4" r="2.3" fill="#1b9e77"/>
<circle cx="436.0" cy="170.0" r="2.3" fill="#d95f02"/>
<circle cx="445.8" cy="172.8" r="2.3" fill="#d95f02"/>
<circle cx="439.7" cy="169.0" r="2.3" fill="#66a61e"/>
<circle cx="437.2" cy="178.5" r="2.3" fill="#e7298a"/>
<circle cx="428.7" cy="187.8" r="2.3" fill="#66a61e"/>
<circle cx="435.4" cy="190.2" r="2.3" fill="#e7298a"/>
<circle cx="446.8" cy="188.5" r="2.3" fill="#66a61e"/>
<circle cx="455.0" cy="190.9" r="2.3" fill="#e7298a"/>
<circle cx="428.7" cy="192.5" r="2.3" fill="#66a61e"/>
<circle cx="409.2" cy="193.4" r="2.3" fill="#7570b3"/>
<circle cx="391.7" cy="199.2" r="2.3" fill="#e7298a"/>
<circle cx="408.3" cy="199.9" r="2.3" fill="#7570b3"/>
<circle cx="418.9" cy="200.3" r="2.3" fill="#66a61e"/>
<circle cx="411.9" cy="203.0" r="2.3" fill="#d95f02"/>
<circle cx="400.7" cy="203.9" r="2.3" fill="#7570b3"/>
<circle cx="382.6" cy="208.5" r="2.3" fill="#e7298a"/>
<circle cx="394.2" cy="207.9" r="2.3" fill="#e7298a"/>
<circle cx="398.7" cy="206.7" r="2.3" fill="#e7298a"/>
<circle cx="405.8" cy="207.9" r="2.3" fill="#66a61e"/>
<circle cx="409.5" cy="207.9" r="2.3" fill="#e7298a"/>
<circle cx="411.7" cy="206.4" r="2.3" fill="#d95f02"/>
<circle cx="394.8" cy="212.2" r="2.3" fill="#e7298a"/>
<circle cx="416.6" cy="209.5" r="2.3" fill="#66a61e"/>
<circle cx="419.4" cy="212.5" r="2.3" fill="#d95f02"/>
<circle cx="400.9" cy="215.4" r="2.3" fill="#e7298a"/>
<circle cx="407.6" cy="214.0" r="2.3" fill="#7570b3"/>
<circle cx="408.3" cy="216.4" r="2.3" fill="#7570b3"/>
<circle cx="384.4" cy="221.9" r="2.3" fill="#7570b3"/>
<circle cx="397.2" cy="220.7" r="2.3" fill="#e7298a"/>
<circle cx="409.4" cy="220.5" r="2.3" fill="#66a61e"/>
<circle cx="421.6" cy="217.7" r="2.3" fill="#d95f02"/>
<circle cx="421.9" cy="221.3" r="2.3" fill="#d95f02"/>
<circle cx="430.9" cy="196.2" r="2.3" fill="#66a61e"/>
<circle cx="431.1" cy="199.3" r="2.3" fill="#66a61e"/>
<circle cx="436.3" cy="195.7" r="2.3" fill="#d95f02"/>
<circle cx="438.5" cy="199.2" r="2.3" fill="#d95f02"/>
<circle cx="429.3" cy="204.8" r="2.3" fill="#d95f02"/>
<circle cx="431.1" cy="207.7" r="2.3" fill="#d95f02"/>
<circle cx="421.4" cy="215.2" r="2.3" fill="#d95f02"/>
<circle cx="428.1" cy="218.3" r="2.3" fill="#d95f02"/>
<circle cx="439.5" cy="216.8" r="2.3" fill="#d95f02"/>
<circle cx="425.3" cy="223.3" r="2.3" fill="#d95f02"/>
<circle cx="444.0" cy="194.4" r="2.3" fill="#e7298a"/>
<circle cx="439.7" cy="207.9" r="2.3" fill="#66a61e"/>
<circle cx="442.1" cy="206.4" r="2.3" fill="#66a61e"/>
<circle cx="448.3" cy="204.8" r="2.3" fill="#66a61e"/>
<circle cx="449.5" cy="206.7" r="2.3" fill="#66a61e"/>
<circle cx="425.6" cy="210.3" r="2.3" fill="#66a61e"/>
<circle cx="444.0" cy="214.0" r="2.3" fill="#66a61e"/>
<circle cx="446.8" cy="215.4" r="2.3" fill="#e7298a"/>
<circle cx="460.2" cy="215.2" r="2.3" fill="#e7298a"/>
<circle cx="443.9" cy="223.3" r="2.3" fill="#66a61e"/>
<circle cx="453.8" cy="219.8" r="2.3" fill="#e7298a"/>
<circle cx="455.3" cy="221.3" r="2.3" fill="#e7298a"/>
<circle cx="461.9" cy="220.7" r="2.3" fill="#e7298a"/>
<circle cx="390.2" cy="226.8" r="2.3" fill="#e7298a"/>
<circle cx="395.4" cy="230.3" r="2.3" fill="#1b9e77"/>
<circle cx="403.1" cy="227.7" r="2.3" fill="#1b9e77"/>
<circle cx="415.0" cy="233.2" r="2.3" fill="#d95f02"/>
<circle cx="420.9" cy="225.8" r="2.3" fill="#d95f02"/>
<circle cx="423.1" cy="235.9" r="2.3" fill="#1b9e77"/>
<circle cx="428.1" cy="220.3" r="2.3" fill="#d95f02"/>
<circle cx="436.4" cy="229.8" r="2.3" fill="#66a61e"/>
<circle cx="446.8" cy="229.8" r="2.3" fill="#66a61e"/>
<circle cx="451.1" cy="237.2" r="2.3" fill="#66a61e"/>
<circle cx="493.4" cy="183.7" r="2.3" fill="#1b9e77"/>
<circle cx="482.9" cy="164.8" r="2.3" fill="#1b9e77"/>
<circle cx="503.8" cy="172.8" r="2.3" fill="#1b9e77"/>
<circle cx="488.9" cy="186.8" r="2.3" fill="#7570b3"/>
<circle cx="492.4" cy="161.5" r="2.3" fill="#1b9e77"/>
<circle cx="491.2" cy="189.0" r="2.3" fill="#d95f02"/>
<circle cx="466.4" cy="196.2" r="2.3" fill="#1b9e77"/>
<circle cx="474.1" cy="194.8" r="2.3" fill="#7570b3"/>
<circle cx="479.0" cy="195.3" r="2.3" fill="#7570b3"/>
<circle cx="471.0" cy="200.7" r="2.3" fill="#e7298a"/>
<circle cx="506.1" cy="194.0" r="2.3" fill="#7570b3"/>
<circle cx="505.0" cy="197.5" r="2.3" fill="#7570b3"/>
<circle cx="509.0" cy="190.8" r="2.3" fill="#d95f02"/>
<circle cx="464.7" cy="206.3" r="2.3" fill="#e7298a"/>
<circle cx="475.3" cy="205.8" r="2.3" fill="#1b9e77"/>
<circle cx="481.4" cy="202.8" r="2.3" fill="#7570b3"/>
<circle cx="483.2" cy="205.2" r="2.3" fill="#7570b3"/>
<circle cx="485.1" cy="210.4" r="2.3" fill="#7570b3"/>
<circle cx="490.0" cy="211.7" r="2.3" fill="#1b9e77"/>
<circle cx="498.5" cy="206.3" r="2.3" fill="#7570b3"/>
<circle cx="502.2" cy="204.9" r="2.3" fill="#d95f02"/>
<circle cx="477.1" cy="215.3" r="2.3" fill="#1b9e77"/>
<circle cx="468.0" cy="218.7" r="2.3" fill="#e7298a"/>
<circle cx="494.3" cy="214.4" r="2.3" fill="#1b9e77"/>
<circle cx="493.0" cy="218.3" r="2.3" fill="#1b9e77"/>
<circle cx="501.6" cy="213.8" r="2.3" fill="#1b9e77"/>
<circle cx="491.2" cy="192.4" r="2.3" fill="#1b9e77"/>
<circle cx="468.6" cy="214.0" r="2.3" fill="#1b9e77"/>
<circle cx="480.2" cy="218.9" r="2.3" fill="#e7298a"/>
<circle cx="499.8" cy="217.8" r="2.3" fill="#1b9e77"/>
<circle cx="507.6" cy="214.6" r="2.3" fill="#d95f02"/>
<circle cx="467.4" cy="220.3" r="2.3" fill="#e7298a"/>
<circle cx="492.8" cy="237.2" r="2.3" fill="#7570b3"/>
<circle cx="491.8" cy="229.2" r="2.3" fill="#1b9e77"/>
<circle cx="487.5" cy="232.5" r="2.3" fill="#1b9e77"/>
<circle cx="485.9" cy="235.0" r="2.3" fill="#1b9e77"/>
<circle cx="495.2" cy="238.0" r="2.3" fill="#d95f02"/>
<circle cx="507.9" cy="241.7" r="2.3" fill="#d95f02"/>
<circle cx="504.6" cy="250.3" r="2.3" fill="#66a61e"/>
<circle cx="475.9" cy="235.9" r="2.3" fill="#1b9e77"/>
<circle cx="522.4" cy="163.5" r="2.3" fill="#1b9e77"/>
<circle cx="516.6" cy="178.4" r="2.3" fill="#7570b3"/>
<circle cx="529.7" cy="177.0" r="2.3" fill="#d95f02"/>
<circle cx="523.7" cy="184.0" r="2.3" fill="#7570b3"/>
<circle cx="522.1" cy="185.8" r="2.3" fill="#d95f02"/>
<circle cx="530.5" cy="187.1" r="2.3" fill="#d95f02"/>
<circle cx="525.8" cy="165.2" r="2.3" fill="#1b9e77"/>
<circle cx="546.6" cy="174.8" r="2.3" fill="#1b9e77"/>
<circle cx="525.8" cy="184.5" r="2.3" fill="#1b9e77"/>
<circle cx="554.4" cy="183.2" r="2.3" fill="#66a61e"/>
<circle cx="516.0" cy="180.3" r="2.3" fill="#7570b3"/>
<circle cx="530.5" cy="197.4" r="2.3" fill="#d95f02"/>
<circle cx="540.5" cy="199.9" r="2.3" fill="#d95f02"/>
<circle cx="524.0" cy="204.5" r="2.3" fill="#d95f02"/>
<circle cx="533.1" cy="209.9" r="2.3" fill="#d95f02"/>
<circle cx="536.8" cy="209.9" r="2.3" fill="#d95f02"/>
<circle cx="511.1" cy="209.7" r="2.3" fill="#d95f02"/>
<circle cx="512.4" cy="216.4" r="2.3" fill="#d95f02"/>
<circle cx="509.3" cy="195.0" r="2.3" fill="#1b9e77"/>
<circle cx="543.3" cy="190.3" r="2.3" fill="#d95f02"/>
<circle cx="537.4" cy="194.8" r="2.3" fill="#66a61e"/>
<circle cx="523.4" cy="196.2" r="2.3" fill="#d95f02"/>
<circle cx="549.2" cy="200.5" r="2.3" fill="#7570b3"/>
<circle cx="526.8" cy="207.4" r="2.3" fill="#d95f02"/>
<circle cx="550.8" cy="206.7" r="2.3" fill="#66a61e"/>
<circle cx="518.8" cy="215.9" r="2.3" fill="#d95f02"/>
<circle cx="553.5" cy="212.0" r="2.3" fill="#d95f02"/>
<circle cx="512.6" cy="199.7" r="2.3" fill="#1b9e77"/>
<circle cx="538.0" cy="204.5" r="2.3" fill="#1b9e77"/>
<circle cx="527.9" cy="198.9" r="2.3" fill="#1b9e77"/>
<circle cx="528.9" cy="203.3" r="2.3" fill="#1b9e77"/>
<circle cx="575.1" cy="159.8" r="2.3" fill="#d95f02"/>
<circle cx="556.1" cy="181.5" r="2.3" fill="#1b9e77"/>
<circle cx="588.2" cy="165.2" r="2.3" fill="#e7298a"/>
<circle cx="579.4" cy="174.2" r="2.3" fill="#7570b3"/>
<circle cx="557.4" cy="177.0" r="2.3" fill="#1b9e77"/>
<circle cx="594.3" cy="178.8" r="2.3" fill="#7570b3"/>
<circle cx="601.8" cy="180.9" r="2.3" fill="#7570b3"/>
<circle cx="613.4" cy="175.2" r="2.3" fill="#7570b3"/>
<circle cx="562.5" cy="189.2" r="2.3" fill="#d95f02"/>
<circle cx="564.7" cy="197.2" r="2.3" fill="#1b9e77"/>
<circle cx="598.3" cy="204.2" r="2.3" fill="#7570b3"/>
<circle cx="571.0" cy="189.5" r="2.3" fill="#7570b3"/>
<circle cx="570.8" cy="193.2" r="2.3" fill="#e7298a"/>
<circle cx="580.8" cy="192.5" r="2.3" fill="#7570b3"/>
<circle cx="559.8" cy="196.2" r="2.3" fill="#e7298a"/>
<circle cx="556.4" cy="198.4" r="2.3" fill="#66a61e"/>
<circle cx="576.9" cy="198.4" r="2.3" fill="#e7298a"/>
<circle cx="578.1" cy="200.5" r="2.3" fill="#e7298a"/>
<circle cx="581.8" cy="202.2" r="2.3" fill="#e7298a"/>
<circle cx="591.6" cy="199.2" r="2.3" fill="#7570b3"/>
<circle cx="564.7" cy="207.0" r="2.3" fill="#d95f02"/>
<circle cx="573.9" cy="207.8" r="2.3" fill="#7570b3"/>
<circle cx="598.3" cy="209.7" r="2.3" fill="#d95f02"/>
<circle cx="561.6" cy="202.5" r="2.3" fill="#1b9e77"/>
<circle cx="586.7" cy="203.5" r="2.3" fill="#1b9e77"/>
<circle cx="581.8" cy="208.4" r="2.3" fill="#66a61e"/>
<circle cx="591.6" cy="206.7" r="2.3" fill="#d95f02"/>
<circle cx="594.6" cy="210.9" r="2.3" fill="#d95f02"/>
<circle cx="573.2" cy="212.8" r="2.3" fill="#e7298a"/>
<circle cx="581.2" cy="212.8" r="2.3" fill="#e7298a"/>
<circle cx="603.0" cy="194.0" r="2.3" fill="#e7298a"/>
<circle cx="599.3" cy="198.0" r="2.3" fill="#66a61e"/>
<circle cx="603.8" cy="198.4" r="2.3" fill="#d95f02"/>
<circle cx="619.2" cy="194.8" r="2.3" fill="#7570b3"/>
<circle cx="599.9" cy="208.4" r="2.3" fill="#d95f02"/>
<circle cx="620.1" cy="205.8" r="2.3" fill="#e7298a"/>
<circle cx="634.4" cy="208.2" r="2.3" fill="#e7298a"/>
<circle cx="622.9" cy="212.3" r="2.3" fill="#7570b3"/>
<circle cx="601.4" cy="214.3" r="2.3" fill="#7570b3"/>
<circle cx="616.4" cy="216.0" r="2.3" fill="#7570b3"/>
<circle cx="612.8" cy="216.8" r="2.3" fill="#e7298a"/>
<circle cx="612.4" cy="212.8" r="2.3" fill="#e7298a"/>
<circle cx="522.1" cy="219.0" r="2.3" fill="#d95f02"/>
<circle cx="511.1" cy="236.5" r="2.3" fill="#1b9e77"/>
<circle cx="517.9" cy="236.5" r="2.3" fill="#d95f02"/>
<circle cx="528.0" cy="221.2" r="2.3" fill="#d95f02"/>
<circle cx="517.2" cy="222.8" r="2.3" fill="#d95f02"/>
<circle cx="541.5" cy="224.3" r="2.3" fill="#d95f02"/>
<circle cx="549.8" cy="221.0" r="2.3" fill="#d95f02"/>
<circle cx="547.2" cy="218.4" r="2.3" fill="#d95f02"/>
<circle cx="521.5" cy="227.7" r="2.3" fill="#d95f02"/>
<circle cx="531.7" cy="227.0" r="2.3" fill="#d95f02"/>
<circle cx="544.1" cy="231.9" r="2.3" fill="#66a61e"/>
<circle cx="540.5" cy="242.7" r="2.3" fill="#7570b3"/>
<circle cx="528.9" cy="244.3" r="2.3" fill="#66a61e"/>
<circle cx="523.4" cy="248.8" r="2.3" fill="#66a61e"/>
<circle cx="528.2" cy="248.4" r="2.3" fill="#66a61e"/>
<circle cx="535.0" cy="222.8" r="2.3" fill="#d95f02"/>
<circle cx="512.1" cy="230.4" r="2.3" fill="#1b9e77"/>
<circle cx="547.8" cy="232.5" r="2.3" fill="#66a61e"/>
<circle cx="551.3" cy="232.2" r="2.3" fill="#66a61e"/>
<circle cx="549.6" cy="234.9" r="2.3" fill="#66a61e"/>
<circle cx="549.6" cy="240.4" r="2.3" fill="#e7298a"/>
<circle cx="548.4" cy="244.2" r="2.3" fill="#66a61e"/>
<circle cx="526.4" cy="246.8" r="2.3" fill="#1b9e77"/>
<circle cx="535.8" cy="235.3" r="2.3" fill="#1b9e77"/>
<circle cx="516.3" cy="240.4" r="2.3" fill="#1b9e77"/>
<circle cx="550.8" cy="244.3" r="2.3" fill="#1b9e77"/>
<circle cx="583.0" cy="216.0" r="2.3" fill="#e7298a"/>
<circle cx="586.7" cy="217.2" r="2.3" fill="#66a61e"/>
<circle cx="553.7" cy="223.3" r="2.3" fill="#d95f02"/>
<circle cx="570.6" cy="223.9" r="2.3" fill="#d95f02"/>
<circle cx="575.1" cy="224.3" r="2.3" fill="#d95f02"/>
<circle cx="591.8" cy="230.0" r="2.3" fill="#e7298a"/>
<circle cx="555.5" cy="234.9" r="2.3" fill="#e7298a"/>
<circle cx="557.4" cy="239.8" r="2.3" fill="#7570b3"/>
<circle cx="570.2" cy="241.0" r="2.3" fill="#e7298a"/>
<circle cx="553.7" cy="242.9" r="2.3" fill="#e7298a"/>
<circle cx="555.5" cy="244.3" r="2.3" fill="#e7298a"/>
<circle cx="559.2" cy="245.7" r="2.3" fill="#7570b3"/>
<circle cx="591.0" cy="217.2" r="2.3" fill="#66a61e"/>
<circle cx="597.1" cy="217.8" r="2.3" fill="#66a61e"/>
<circle cx="583.0" cy="219.0" r="2.3" fill="#66a61e"/>
<circle cx="584.9" cy="222.8" r="2.3" fill="#66a61e"/>
<circle cx="592.2" cy="223.9" r="2.3" fill="#66a61e"/>
<circle cx="596.5" cy="224.5" r="2.3" fill="#66a61e"/>
<circle cx="571.4" cy="227.9" r="2.3" fill="#d95f02"/>
<circle cx="581.6" cy="227.2" r="2.3" fill="#66a61e"/>
<circle cx="569.0" cy="232.2" r="2.3" fill="#1b9e77"/>
<circle cx="558.6" cy="234.5" r="2.3" fill="#1b9e77"/>
<circle cx="567.1" cy="238.7" r="2.3" fill="#d95f02"/>
<circle cx="585.5" cy="240.4" r="2.3" fill="#d95f02"/>
<circle cx="582.4" cy="242.9" r="2.3" fill="#66a61e"/>
<circle cx="586.7" cy="242.9" r="2.3" fill="#7570b3"/>
<circle cx="593.9" cy="244.1" r="2.3" fill="#e7298a"/>
<circle cx="572.6" cy="247.3" r="2.3" fill="#e7298a"/>
<circle cx="573.9" cy="218.2" r="2.3" fill="#d95f02"/>
<circle cx="586.7" cy="226.8" r="2.3" fill="#66a61e"/>
<circle cx="564.7" cy="228.4" r="2.3" fill="#1b9e77"/>
<circle cx="577.5" cy="231.9" r="2.3" fill="#d95f02"/>
<circle cx="585.5" cy="231.9" r="2.3" fill="#7570b3"/>
<circle cx="596.3" cy="233.5" r="2.3" fill="#e7298a"/>
<circle cx="563.5" cy="236.2" r="2.3" fill="#66a61e"/>
<circle cx="581.2" cy="236.2" r="2.3" fill="#7570b3"/>
<circle cx="561.0" cy="238.0" r="2.3" fill="#66a61e"/>
<circle cx="576.3" cy="241.0" r="2.3" fill="#d95f02"/>
<circle cx="551.2" cy="241.7" r="2.3" fill="#1b9e77"/>
<circle cx="564.1" cy="242.3" r="2.3" fill="#66a61e"/>
<circle cx="573.2" cy="243.8" r="2.3" fill="#e7298a"/>
<circle cx="577.8" cy="244.1" r="2.3" fill="#d95f02"/>
<circle cx="580.0" cy="247.2" r="2.3" fill="#1b9e77"/>
<circle cx="594.4" cy="223.9" r="2.3" fill="#66a61e"/>
<circle cx="599.3" cy="223.2" r="2.3" fill="#d95f02"/>
<circle cx="619.7" cy="224.5" r="2.3" fill="#e7298a"/>
<circle cx="625.6" cy="223.2" r="2.3" fill="#e7298a"/>
<circle cx="610.9" cy="227.2" r="2.3" fill="#7570b3"/>
<circle cx="636.3" cy="234.9" r="2.3" fill="#e7298a"/>
<circle cx="602.6" cy="231.9" r="2.3" fill="#e7298a"/>
<circle cx="608.5" cy="232.8" r="2.3" fill="#e7298a"/>
<circle cx="599.7" cy="238.2" r="2.3" fill="#66a61e"/>
<circle cx="605.4" cy="237.4" r="2.3" fill="#7570b3"/>
<circle cx="611.5" cy="240.2" r="2.3" fill="#e7298a"/>
<circle cx="605.4" cy="243.5" r="2.3" fill="#7570b3"/>
<circle cx="604.8" cy="246.8" r="2.3" fill="#d95f02"/>
<circle cx="609.4" cy="246.8" r="2.3" fill="#d95f02"/>
<circle cx="602.6" cy="223.2" r="2.3" fill="#7570b3"/>
<circle cx="595.0" cy="230.0" r="2.3" fill="#e7298a"/>
<circle cx="606.6" cy="240.8" r="2.3" fill="#7570b3"/>
<circle cx="522.1" cy="251.2" r="2.3" fill="#66a61e"/>
<circle cx="537.8" cy="256.9" r="2.3" fill="#e7298a"/>
<circle cx="548.4" cy="254.0" r="2.3" fill="#e7298a"/>
<circle cx="517.0" cy="252.3" r="2.3" fill="#e7298a"/>
<circle cx="515.0" cy="256.5" r="2.3" fill="#66a61e"/>
<circle cx="533.4" cy="255.9" r="2.3" fill="#66a61e"/>
<circle cx="544.4" cy="256.2" r="2.3" fill="#e7298a"/>
<circle cx="550.5" cy="250.8" r="2.3" fill="#66a61e"/>
<circle cx="585.5" cy="245.8" r="2.3" fill="#e7298a"/>
<circle cx="570.6" cy="251.3" r="2.3" fill="#7570b3"/>
<circle cx="575.5" cy="251.5" r="2.3" fill="#66a61e"/>
<circle cx="561.6" cy="251.9" r="2.3" fill="#66a61e"/>
<circle cx="580.8" cy="257.5" r="2.3" fill="#d95f02"/>
<circle cx="589.1" cy="256.2" r="2.3" fill="#e7298a"/>
<circle cx="592.2" cy="255.9" r="2.3" fill="#d95f02"/>
<circle cx="589.8" cy="260.6" r="2.3" fill="#7570b3"/>
<circle cx="562.9" cy="262.6" r="2.3" fill="#66a61e"/>
<circle cx="579.4" cy="248.9" r="2.3" fill="#7570b3"/>
<circle cx="587.9" cy="249.8" r="2.3" fill="#66a61e"/>
<circle cx="597.5" cy="251.9" r="2.3" fill="#d95f02"/>
<circle cx="584.6" cy="258.5" r="2.3" fill="#66a61e"/>
<circle cx="597.5" cy="263.9" r="2.3" fill="#d95f02"/>
<circle cx="604.8" cy="251.9" r="2.3" fill="#7570b3"/>
<circle cx="608.2" cy="251.9" r="2.3" fill="#7570b3"/>
<circle cx="610.9" cy="255.2" r="2.3" fill="#d95f02"/>
<circle cx="617.6" cy="256.5" r="2.3" fill="#7570b3"/>
<circle cx="611.5" cy="252.5" r="2.3" fill="#e7298a"/>
<circle cx="530.2" cy="214.8" r="2.3" fill="#d95f02"/>
<circle cx="504.1" cy="224.8" r="2.3" fill="#1b9e77"/>
<circle cx="508.8" cy="225.5" r="2.3" fill="#1b9e77"/>
<circle cx="490.4" cy="221.0" r="2.3" fill="#d95f02"/>
<circle cx="488.0" cy="224.8" r="2.3" fill="#7570b3"/>
<path d="M395.1,174.7 L399.9,175.2 L404.8,175.7 L409.6,176.2 L414.4,176.7 L419.2,177.2 L424.1,177.6 L428.9,178.0 L433.7,178.5 L438.6,178.8 L443.4,179.2 L448.2,179.6 L453.1,179.9 L457.9,180.2 L462.7,180.4 L467.6,180.6 L472.4,180.8 L477.2,180.9 L482.0,181.0 L486.9,181.0 L491.7,181.0 L496.5,180.9 L501.4,180.8 L506.2,180.5 L511.0,180.3 L515.9,179.9 L520.7,179.5 L525.5,179.0 L530.3,178.5 L535.2,177.8 L540.0,177.2 L544.8,176.5 L549.7,175.7 L554.5,174.9 L559.3,174.0 L564.1,173.2 L569.0,172.2 L573.8,171.3 L578.6,170.3 L583.5,169.3 L588.3,168.3 L588.3,210.3 L583.5,209.9 L578.6,209.5 L573.8,209.2 L569.0,208.8 L564.1,208.5 L559.3,208.3 L554.5,208.0 L549.7,207.9 L544.8,207.7 L540.0,207.6 L535.2,207.6 L530.3,207.6 L525.5,207.7 L520.7,207.8 L515.9,208.0 L511.0,208.3 L506.2,208.6 L501.4,209.0 L496.5,209.5 L491.7,210.0 L486.9,210.6 L482.0,211.2 L477.2,211.9 L472.4,212.7 L467.6,213.5 L462.7,214.3 L457.9,215.2 L453.1,216.1 L448.2,217.0 L443.4,218.0 L438.6,219.0 L433.7,220.0 L428.9,221.0 L424.1,222.1 L419.2,223.1 L414.4,224.2 L409.6,225.3 L404.8,226.4 L399.9,227.6 L395.1,228.7Z" fill="#1b9e77" fill-opacity="0.18"/>
<line x1="395.1" y1="201.7" x2="588.3" y2="189.3" stroke="#1b9e77" stroke-width="2.1"/>
<path d="M410.0,188.8 L414.8,189.9 L419.5,191.0 L424.2,192.1 L429.0,193.2 L433.8,194.3 L438.5,195.4 L443.2,196.5 L448.0,197.5 L452.8,198.6 L457.5,199.6 L462.2,200.6 L467.0,201.6 L471.8,202.6 L476.5,203.5 L481.2,204.5 L486.0,205.3 L490.8,206.2 L495.5,207.0 L500.2,207.8 L505.0,208.6 L509.8,209.3 L514.5,210.0 L519.2,210.7 L524.0,211.3 L528.8,211.9 L533.5,212.4 L538.2,212.9 L543.0,213.4 L547.8,213.9 L552.5,214.4 L557.2,214.8 L562.0,215.3 L566.8,215.7 L571.5,216.1 L576.2,216.5 L581.0,216.9 L585.8,217.3 L590.5,217.7 L595.2,218.0 L600.0,218.4 L600.0,238.4 L595.2,237.3 L590.5,236.2 L585.8,235.1 L581.0,234.0 L576.2,232.9 L571.5,231.8 L566.8,230.7 L562.0,229.7 L557.2,228.6 L552.5,227.6 L547.8,226.6 L543.0,225.6 L538.2,224.6 L533.5,223.7 L528.8,222.7 L524.0,221.9 L519.2,221.0 L514.5,220.2 L509.8,219.4 L505.0,218.6 L500.2,217.9 L495.5,217.2 L490.8,216.5 L486.0,215.9 L481.2,215.3 L476.5,214.8 L471.8,214.3 L467.0,213.8 L462.2,213.3 L457.5,212.8 L452.8,212.4 L448.0,211.9 L443.2,211.5 L438.5,211.1 L433.8,210.7 L429.0,210.3 L424.2,209.9 L419.5,209.5 L414.8,209.2 L410.0,208.8Z" fill="#d95f02" fill-opacity="0.18"/>
<line x1="410.0" y1="198.8" x2="600.0" y2="228.4" stroke="#d95f02" stroke-width="2.1"/>
<path d="M383.9,171.9 L389.9,173.2 L395.8,174.6 L401.8,175.9 L407.7,177.2 L413.7,178.5 L419.6,179.9 L425.6,181.2 L431.5,182.5 L437.5,183.8 L443.4,185.1 L449.4,186.3 L455.4,187.6 L461.3,188.8 L467.3,190.1 L473.2,191.3 L479.2,192.5 L485.1,193.7 L491.1,194.9 L497.0,196.0 L503.0,197.1 L509.0,198.2 L514.9,199.3 L520.9,200.3 L526.8,201.3 L532.8,202.3 L538.7,203.2 L544.7,204.1 L550.6,205.0 L556.6,205.8 L562.5,206.6 L568.5,207.3 L574.5,208.1 L580.4,208.8 L586.4,209.5 L592.3,210.2 L598.3,210.8 L604.2,211.5 L610.2,212.1 L616.1,212.7 L622.1,213.3 L622.1,231.3 L616.1,230.0 L610.2,228.8 L604.2,227.5 L598.3,226.3 L592.3,225.1 L586.4,223.9 L580.4,222.7 L574.5,221.6 L568.5,220.4 L562.5,219.3 L556.6,218.2 L550.6,217.2 L544.7,216.2 L538.7,215.2 L532.8,214.3 L526.8,213.4 L520.9,212.5 L514.9,211.7 L509.0,210.8 L503.0,210.1 L497.0,209.3 L491.1,208.6 L485.1,207.9 L479.2,207.2 L473.2,206.5 L467.3,205.9 L461.3,205.3 L455.4,204.6 L449.4,204.0 L443.4,203.4 L437.5,202.9 L431.5,202.3 L425.6,201.7 L419.6,201.2 L413.7,200.6 L407.7,200.1 L401.8,199.5 L395.8,199.0 L389.9,198.4 L383.9,197.9Z" fill="#7570b3" fill-opacity="0.18"/>
<line x1="383.9" y1="184.9" x2="622.1" y2="222.3" stroke="#7570b3" stroke-width="2.1"/>
<path d="M382.3,185.9 L388.6,187.2 L394.9,188.5 L401.3,189.7 L407.6,191.0 L413.9,192.3 L420.2,193.5 L426.5,194.8 L432.9,196.0 L439.2,197.2 L445.5,198.4 L451.8,199.6 L458.1,200.8 L464.5,202.0 L470.8,203.1 L477.1,204.3 L483.4,205.4 L489.7,206.5 L496.1,207.5 L502.4,208.6 L508.7,209.6 L515.0,210.6 L521.3,211.5 L527.7,212.5 L534.0,213.4 L540.3,214.3 L546.6,215.1 L552.9,215.9 L559.3,216.8 L565.6,217.6 L571.9,218.3 L578.2,219.1 L584.5,219.9 L590.9,220.6 L597.2,221.4 L603.5,222.1 L609.8,222.8 L616.1,223.5 L622.5,224.2 L628.8,224.9 L635.1,225.6 L635.1,242.0 L628.8,240.7 L622.5,239.5 L616.1,238.2 L609.8,236.9 L603.5,235.7 L597.2,234.4 L590.9,233.2 L584.5,232.0 L578.2,230.8 L571.9,229.6 L565.6,228.4 L559.3,227.2 L552.9,226.0 L546.6,224.9 L540.3,223.8 L534.0,222.7 L527.7,221.6 L521.3,220.6 L515.0,219.6 L508.7,218.6 L502.4,217.6 L496.1,216.7 L489.7,215.8 L483.4,214.9 L477.1,214.1 L470.8,213.2 L464.5,212.4 L458.1,211.6 L451.8,210.8 L445.5,210.1 L439.2,209.3 L432.9,208.6 L426.5,207.8 L420.2,207.1 L413.9,206.4 L407.6,205.7 L401.3,205.0 L394.9,204.3 L388.6,203.6 L382.3,202.9Z" fill="#e7298a" fill-opacity="0.18"/>
<line x1="382.3" y1="194.4" x2="635.1" y2="233.8" stroke="#e7298a" stroke-width="2.1"/>
<path d="M377.3,177.2 L382.9,178.8 L388.4,180.5 L394.0,182.1 L399.6,183.7 L405.1,185.3 L410.7,186.9 L416.3,188.5 L421.8,190.1 L427.4,191.6 L432.9,193.2 L438.5,194.7 L444.1,196.3 L449.6,197.8 L455.2,199.3 L460.8,200.8 L466.3,202.2 L471.9,203.6 L477.5,205.0 L483.0,206.4 L488.6,207.8 L494.2,209.1 L499.7,210.4 L505.3,211.6 L510.9,212.8 L516.4,214.0 L522.0,215.2 L527.6,216.3 L533.1,217.4 L538.7,218.5 L544.2,219.5 L549.8,220.6 L555.4,221.6 L560.9,222.6 L566.5,223.6 L572.1,224.6 L577.6,225.6 L583.2,226.5 L588.8,227.5 L594.3,228.5 L599.9,229.4 L599.9,247.4 L594.3,245.8 L588.8,244.2 L583.2,242.6 L577.6,241.0 L572.1,239.4 L566.5,237.8 L560.9,236.3 L555.4,234.7 L549.8,233.2 L544.2,231.7 L538.7,230.2 L533.1,228.7 L527.6,227.2 L522.0,225.8 L516.4,224.4 L510.9,223.0 L505.3,221.7 L499.7,220.4 L494.2,219.1 L488.6,217.8 L483.0,216.6 L477.5,215.4 L471.9,214.3 L466.3,213.1 L460.8,212.0 L455.2,211.0 L449.6,209.9 L444.1,208.9 L438.5,207.8 L432.9,206.8 L427.4,205.8 L421.8,204.8 L416.3,203.8 L410.7,202.9 L405.1,201.9 L399.6,201.0 L394.0,200.0 L388.4,199.1 L382.9,198.1 L377.3,197.2Z" fill="#66a61e" fill-opacity="0.18"/>
<line x1="377.3" y1="187.2" x2="599.9" y2="238.4" stroke="#66a61e" stroke-width="2.1"/>
<rect x="372.5" y="2.3" width="294.1" height="271.0" fill="none" stroke="#3a3a3a" stroke-width="1.1"/>
<line x1="369.5" y1="248.6" x2="372.5" y2="248.6" stroke="#3a3a3a" stroke-width="1"/>
<text x="367.0" y="251.2" text-anchor="end" font-size="7.5" fill="#222">2</text>
<line x1="369.5" y1="221.6" x2="372.5" y2="221.6" stroke="#3a3a3a" stroke-width="1"/>
<text x="367.0" y="224.2" text-anchor="end" font-size="7.5" fill="#222">2.5</text>
<line x1="369.5" y1="194.6" x2="372.5" y2="194.6" stroke="#3a3a3a" stroke-width="1"/>
<text x="367.0" y="197.2" text-anchor="end" font-size="7.5" fill="#222">3</text>
<line x1="369.5" y1="167.5" x2="372.5" y2="167.5" stroke="#3a3a3a" stroke-width="1"/>
<text x="367.0" y="170.1" text-anchor="end" font-size="7.5" fill="#222">3.5</text>
<line x1="369.5" y1="140.5" x2="372.5" y2="140.5" stroke="#3a3a3a" stroke-width="1"/>
<text x="367.0" y="143.1" text-anchor="end" font-size="7.5" fill="#222">4</text>
<line x1="369.5" y1="113.5" x2="372.5" y2="113.5" stroke="#3a3a3a" stroke-width="1"/>
<text x="367.0" y="116.1" text-anchor="end" font-size="7.5" fill="#222">4.5</text>
<line x1="369.5" y1="86.5" x2="372.5" y2="86.5" stroke="#3a3a3a" stroke-width="1"/>
<text x="367.0" y="89.1" text-anchor="end" font-size="7.5" fill="#222">5</text>
<line x1="369.5" y1="59.5" x2="372.5" y2="59.5" stroke="#3a3a3a" stroke-width="1"/>
<text x="367.0" y="62.1" text-anchor="end" font-size="7.5" fill="#222">5.5</text>
<line x1="369.5" y1="32.4" x2="372.5" y2="32.4" stroke="#3a3a3a" stroke-width="1"/>
<text x="367.0" y="35.0" text-anchor="end" font-size="7.5" fill="#222">6</text>
<line x1="369.5" y1="5.4" x2="372.5" y2="5.4" stroke="#3a3a3a" stroke-width="1"/>
<text x="367.0" y="8.0" text-anchor="end" font-size="7.5" fill="#222">6.5</text>
<line x1="398.6" y1="273.3" x2="398.6" y2="276.8" stroke="#3a3a3a" stroke-width="1"/>
<text x="398.6" y="284.5" text-anchor="middle" font-size="7.5" fill="#222">4</text>
<line x1="435.3" y1="273.3" x2="435.3" y2="276.8" stroke="#3a3a3a" stroke-width="1"/>
<text x="435.3" y="284.5" text-anchor="middle" font-size="7.5" fill="#222">6</text>
<line x1="472.0" y1="273.3" x2="472.0" y2="276.8" stroke="#3a3a3a" stroke-width="1"/>
<text x="472.0" y="284.5" text-anchor="middle" font-size="7.5" fill="#222">8</text>
<line x1="508.7" y1="273.3" x2="508.7" y2="276.8" stroke="#3a3a3a" stroke-width="1"/>
<text x="508.7" y="284.5" text-anchor="middle" font-size="7.5" fill="#222">10</text>
<line x1="545.4" y1="273.3" x2="545.4" y2="276.8" stroke="#3a3a3a" stroke-width="1"/>
<text x="545.4" y="284.5" text-anchor="middle" font-size="7.5" fill="#222">12</text>
<line x1="582.1" y1="273.3" x2="582.1" y2="276.8" stroke="#3a3a3a" stroke-width="1"/>
<text x="582.1" y="284.5" text-anchor="middle" font-size="7.5" fill="#222">14</text>
<line x1="618.8" y1="273.3" x2="618.8" y2="276.8" stroke="#3a3a3a" stroke-width="1"/>
<text x="618.8" y="284.5" text-anchor="middle" font-size="7.5" fill="#222">16</text>
<line x1="655.5" y1="273.3" x2="655.5" y2="276.8" stroke="#3a3a3a" stroke-width="1"/>
<text x="655.5" y="284.5" text-anchor="middle" font-size="7.5" fill="#222">18</text>
<text x="520.0" y="298.6" text-anchor="middle" font-size="9" fill="#111">Soil moisture content (%)</text>
<text transform="translate(352.8,138) rotate(-90)" text-anchor="middle" font-size="9" fill="#111">Soil organic carbon content (g kg<tspan dy="-3" font-size="6">-1</tspan><tspan dy="3">)</tspan></text>
<text x="379.0" y="13.5" font-size="8.9" fill="#222"><tspan font-style="italic">R</tspan><tspan font-size="6" dy="1.8">1</tspan><tspan font-size="6" dy="-5.6">2</tspan><tspan dy="3.8">=0.0500, </tspan><tspan font-style="italic">p</tspan><tspan font-size="6" dy="1.8">1</tspan><tspan dy="-1.8">=0.0860</tspan></text>
<text x="379.0" y="25.9" font-size="8.9" fill="#222"><tspan font-style="italic">R</tspan><tspan font-size="6" dy="1.8">2</tspan><tspan font-size="6" dy="-5.6">2</tspan><tspan dy="3.8">=0.1060, </tspan><tspan font-style="italic">p</tspan><tspan font-size="6" dy="1.8">2</tspan><tspan dy="-1.8">=0.0111</tspan></text>
<text x="379.0" y="38.3" font-size="8.9" fill="#222"><tspan font-style="italic">R</tspan><tspan font-size="6" dy="1.8">3</tspan><tspan font-size="6" dy="-5.6">2</tspan><tspan dy="3.8">=0.1634, </tspan><tspan font-style="italic">p</tspan><tspan font-size="6" dy="1.8">3</tspan><tspan dy="-1.8">=0.0014</tspan></text>
<text x="379.0" y="50.6" font-size="8.9" fill="#222"><tspan font-style="italic">R</tspan><tspan font-size="6" dy="1.8">4</tspan><tspan font-size="6" dy="-5.6">2</tspan><tspan dy="3.8">=0.2450, </tspan><tspan font-style="italic">p</tspan><tspan font-size="6" dy="1.8">4</tspan><tspan dy="-1.8"><0.0001</tspan></text>
<text x="379.0" y="63.0" font-size="8.9" fill="#222"><tspan font-style="italic">R</tspan><tspan font-size="6" dy="1.8">5</tspan><tspan font-size="6" dy="-5.6">2</tspan><tspan dy="3.8">=0.0306, </tspan><tspan font-style="italic">p</tspan><tspan font-size="6" dy="1.8">5</tspan><tspan dy="-1.8"><0.0001</tspan></text>
<text x="613.7" y="15.6" font-size="8.8" font-weight="bold" fill="#111">Soil depth</text>
<circle cx="617.5" cy="29.2" r="4.1" fill="#1b9e77"/>
<text x="634.2" y="32.3" font-size="8.9" fill="#222">100cm</text>
<circle cx="617.5" cy="43.4" r="4.1" fill="#d95f02"/>
<text x="634.2" y="46.5" font-size="8.9" fill="#222">200cm</text>
<circle cx="617.5" cy="57.6" r="4.1" fill="#7570b3"/>
<text x="634.2" y="60.7" font-size="8.9" fill="#222">300cm</text>
<circle cx="617.5" cy="71.9" r="4.1" fill="#e7298a"/>
<text x="634.2" y="75.0" font-size="8.9" fill="#222">400cm</text>
<circle cx="617.5" cy="86.1" r="4.1" fill="#66a61e"/>
<text x="634.2" y="89.2" font-size="8.9" fill="#222">500cm</text>
<text x="655.5" y="265" font-size="15.5" fill="#111">b</text>
</svg></body></html>
